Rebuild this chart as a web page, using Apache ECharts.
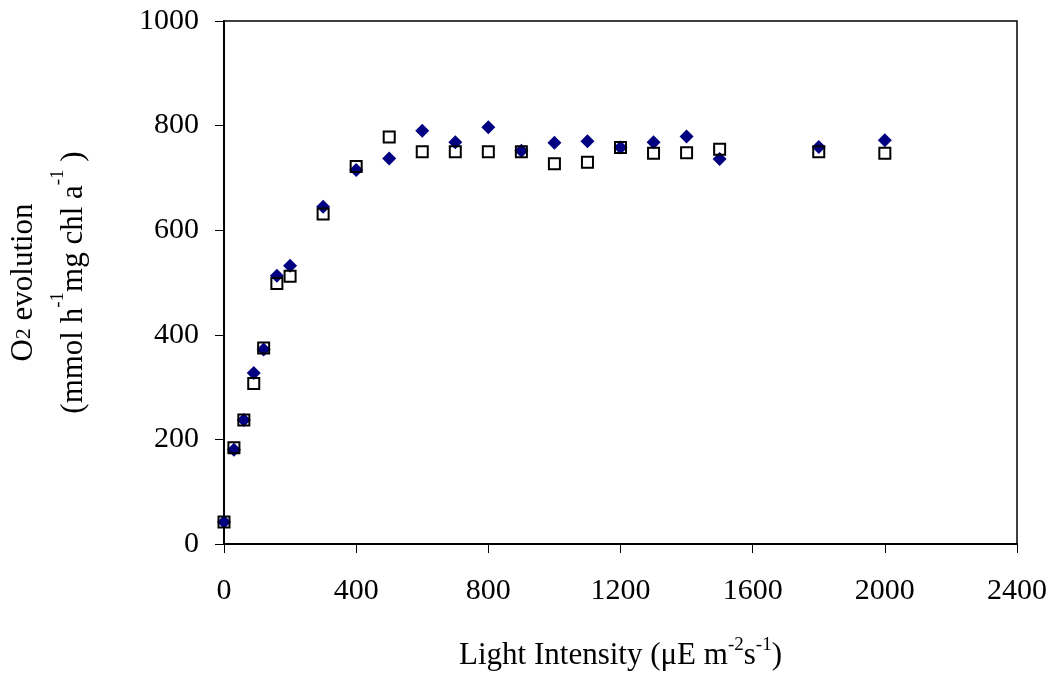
<!DOCTYPE html>
<html>
<head>
<meta charset="utf-8">
<script src="https://cdn.jsdelivr.net/npm/echarts@6/dist/echarts.min.js"></script>
<style>
  html, body { margin: 0; padding: 0; background: #fff; }
  #chart { width: 1057px; height: 679px; }
</style>
</head>
<body>
<div id="chart"></div>
<script>
// light intensity (x) and O2 evolution for the two series
var lightLevels = [0, 30, 60, 90, 120, 160, 200, 300, 400, 500, 600, 700, 800, 900,
    1000, 1100, 1200, 1300, 1400, 1500, 1800, 2000];
var diamondValues = [42, 180, 237, 327, 372, 513, 532, 645, 715, 737, 790, 768, 797, 752,
    767, 770, 758, 768, 779, 736, 759, 772];
var squareValues = [42, 184, 237, 307, 375, 498, 512, 631, 722, 778, 750, 750, 750, 750,
    727, 730, 758, 747, 748, 755, 750, 747];
var xTicks = { min: 0, max: 2400, step: 400 };
var yTicks = { min: 0, max: 1000, step: 200 };

var FONT = '"Liberation Serif", "Times New Roman", serif';

function pairs(xs, ys) {
    var out = [];
    for (var i = 0; i < xs.length; i++) {
        out.push([xs[i], ys[i]]);
    }
    return out;
}

var axisCommon = {
    axisLine: { show: true, onZero: false, lineStyle: { color: '#000', width: 2 } },
    axisTick: { show: true, inside: false, length: 9, lineStyle: { color: '#000', width: 1 } },
    splitLine: { show: false },
    axisLabel: {
        color: '#000', fontFamily: FONT, fontSize: 30,
        formatter: function (v) { return String(v); }
    }
};

var xRich = {
    n: { fontFamily: FONT, fontSize: 31, color: '#000', lineHeight: 40 },
    sup: { fontFamily: FONT, fontSize: 19, color: '#000', lineHeight: 22, verticalAlign: 'top' }
};
var yRich = {
    n: { fontFamily: FONT, fontSize: 31, color: '#000', lineHeight: 50 },
    sub: { fontFamily: FONT, fontSize: 22, color: '#000', lineHeight: 26, verticalAlign: 'middle' },
    sup: { fontFamily: FONT, fontSize: 19, color: '#000', lineHeight: 30, verticalAlign: 'top' }
};

var chart = echarts.init(document.getElementById('chart'), null, { renderer: 'canvas' });

chart.setOption({
    animation: false,
    backgroundColor: '#fff',
    grid: {
        left: 224, right: 40, top: 21, bottom: 135,
        show: true, borderColor: '#000', borderWidth: 1.5,
        containLabel: false,
        outerBoundsMode: 'none'
    },
    xAxis: echarts.util.merge({
        type: 'value',
        min: xTicks.min, max: xTicks.max, interval: xTicks.step,
        name: '{n|Light Intensity (\u03bcE m}{sup|-2}{n|s}{sup|-1}{n|)}',
        nameLocation: 'middle',
        nameGap: 92,
        nameTextStyle: { rich: xRich },
        axisLabel: { margin: 32 }
    }, axisCommon),
    yAxis: echarts.util.merge({
        type: 'value',
        min: yTicks.min, max: yTicks.max, interval: yTicks.step,
        name: '{n|O}{sub|2}{n| evolution}\n{n|(mmol h}{sup|-1}{n|mg chl a}{sup|-1}{n| )}',
        nameLocation: 'middle',
        nameRotate: 90,
        nameGap: 125,
        nameTextStyle: { rich: yRich, align: 'center' },
        axisLabel: { margin: 25 }
    }, axisCommon),
    series: [
        {
            type: 'scatter',
            name: 'diamond',
            symbol: 'diamond',
            symbolSize: [14, 14],
            itemStyle: { color: '#000080', opacity: 1 },
            data: pairs(lightLevels, diamondValues),
            z: 2
        },
        {
            type: 'scatter',
            name: 'square',
            symbol: 'rect',
            symbolSize: [11, 11],
            itemStyle: { color: 'rgba(0,0,0,0)', borderColor: '#000', borderWidth: 2, opacity: 1 },
            data: pairs(lightLevels, squareValues),
            z: 3
        }
    ]
});
</script>
</body>
</html>
